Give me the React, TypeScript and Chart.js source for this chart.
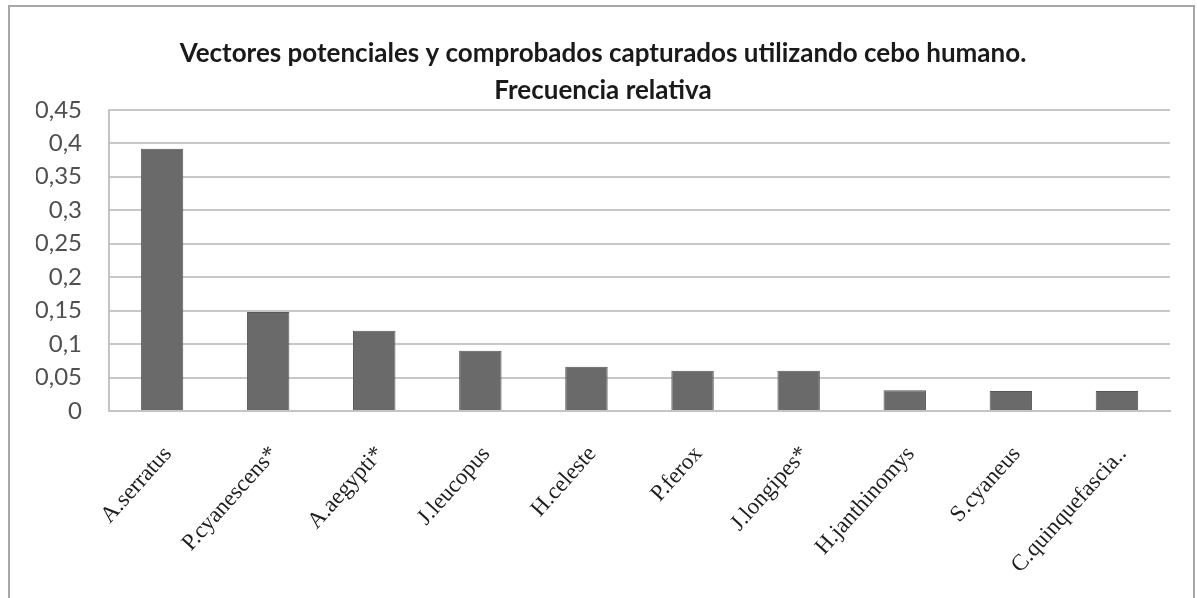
import React, { useEffect, useRef } from "react";
import { Chart, registerables } from "chart.js";

Chart.register(...registerables);

const categories = [
  "A.serratus",
  "P.cyanescens*",
  "A.aegypti*",
  "J.leucopus",
  "H.celeste",
  "P.ferox",
  "J.longipes*",
  "H.janthinomys",
  "S.cyaneus",
  "C.quinquefascia..",
];

const frequencies = [0.392, 0.148, 0.12, 0.09, 0.066, 0.06, 0.06, 0.031, 0.03, 0.03];

const titleLines = [
  "Vectores potenciales y comprobados capturados utilizando cebo humano.",
  "Frecuencia relativa",
];

const yMin = 0;
const yMax = 0.45;
const yStep = 0.05;

export default function App() {
  const canvasRef = useRef<HTMLCanvasElement | null>(null);

  useEffect(() => {
    if (!canvasRef.current) return;
    const chart = new Chart(canvasRef.current, {
      type: "bar",
      data: {
        labels: categories,
        datasets: [
          {
            data: frequencies,
            backgroundColor: "#6a6a6a",
            borderColor: "#575757",
            borderWidth: 1,
            barPercentage: 0.4,
            categoryPercentage: 1,
          },
        ],
      },
      options: {
        animation: false,
        responsive: false,
        maintainAspectRatio: false,
        layout: { padding: { left: 36, right: 27, top: 0, bottom: 0 } },
        plugins: {
          legend: { display: false },
          tooltip: { enabled: false },
          title: {
            display: true,
            text: titleLines,
            color: "#1a1a1a",
            font: { family: "Lato", size: 26, weight: "bold", lineHeight: 1.42 },
            padding: { top: 35, bottom: 1 },
          },
        },
        scales: {
          x: {
            grid: { display: false },
            border: { display: true, color: "#c4c4c4", width: 2 },
            ticks: {
              autoSkip: false,
              maxRotation: 48,
              minRotation: 48,
              color: "#1e1e1e",
              font: { family: "Liberation Serif", size: 23 },
              padding: 22,
              labelOffset: 6,
            },
            afterFit: (s: any) => {
              s.height = 187;
            },
          },
          y: {
            min: yMin,
            max: yMax,
            grid: { color: "#c8c8c8", lineWidth: 2, drawTicks: false },
            border: { display: true, color: "#c4c4c4", width: 2 },
            ticks: {
              stepSize: yStep,
              color: "#4f4f4f",
              padding: 27,
              font: { family: "Lato", size: 24 },
              callback: (v: any) =>
                String(Number(Number(v).toFixed(2))).replace(".", ","),
            },
            afterFit: (s: any) => {
              s.width = 73;
            },
          },
        },
      },
    });
    return () => chart.destroy();
  }, []);

  return (
    <div
      style={{
        position: "absolute",
        left: 0,
        top: 0,
        width: 1197,
        height: 598,
        overflow: "hidden",
        background: "#ffffff",
      }}
    >
      <canvas
        ref={canvasRef}
        width={1197}
        height={598}
        style={{ position: "absolute", left: 0, top: 0, width: 1197, height: 598 }}
      />
      <div
        style={{
          position: "absolute",
          left: 8,
          top: 5,
          width: 1187,
          height: 640,
          border: "2px solid #a6a6a6",
          boxSizing: "border-box",
          pointerEvents: "none",
        }}
      />
    </div>
  );
}
